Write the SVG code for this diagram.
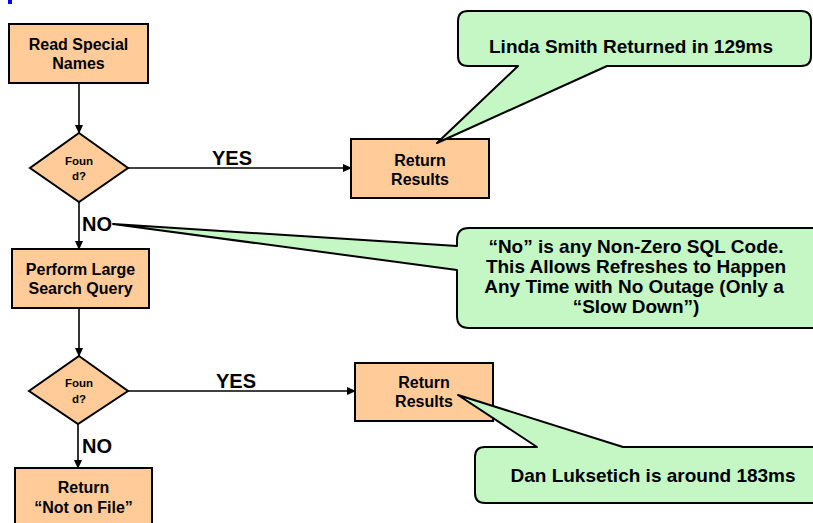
<svg xmlns="http://www.w3.org/2000/svg" width="813" height="523" viewBox="0 0 813 523">
<style>
.box{fill:#FFCC99;stroke:#000;stroke-width:2}
.call{fill:#C4F7C4;stroke:#000;stroke-width:2;stroke-linejoin:round}
.t{font-family:"Liberation Sans",Arial,sans-serif;font-weight:bold;fill:#000;text-anchor:middle}
.bt{font-size:16px}
.dt{font-size:11.5px}
.lbl{font-family:"Liberation Sans",Arial,sans-serif;font-weight:bold;font-size:20px;fill:#000}
.ct{font-size:19px}
.ln{stroke:#000;stroke-width:1.6;fill:none;marker-end:url(#ah)}
</style>
<defs>
<marker id="ah" markerWidth="9" markerHeight="8" refX="8" refY="4" orient="auto" markerUnits="userSpaceOnUse">
<path d="M0,0 L9,4 L0,8 Z" fill="#000"/>
</marker>
</defs>
<rect x="8" y="0" width="4" height="4" fill="#0000FF"/>
<g id="connectors">
<line class="ln" x1="79" y1="84" x2="79" y2="133"/>
<line class="ln" x1="128" y1="168" x2="351" y2="168"/>
<line class="ln" x1="79" y1="202" x2="79" y2="249"/>
<line class="ln" x1="79" y1="309" x2="79" y2="356"/>
<line class="ln" x1="128" y1="391" x2="355" y2="391"/>
<line class="ln" x1="78" y1="424" x2="78" y2="468"/>
<text class="lbl" x="212" y="165">YES</text>
<text class="lbl" x="216" y="388">YES</text>
<text class="lbl" x="82" y="231">NO</text>
<text class="lbl" x="82" y="453">NO</text>
</g>
<g id="read-special">
<rect class="box" x="9" y="24" width="139" height="59"/>
<text class="t bt" x="78.5" y="50">Read Special</text>
<text class="t bt" x="78.5" y="69">Names</text>
</g>
<g id="found1">
<polygon class="box" points="79,133 128,168 79,202 30,168"/>
<text class="t dt" x="79" y="165">Foun</text>
<text class="t dt" x="79" y="180">d?</text>
</g>
<g id="return1">
<rect class="box" x="351" y="139" width="138" height="59"/>
<text class="t bt" x="420" y="166">Return</text>
<text class="t bt" x="420" y="185">Results</text>
</g>
<g id="perform">
<rect class="box" x="12" y="249" width="137" height="59"/>
<text class="t bt" x="80.5" y="275">Perform Large</text>
<text class="t bt" x="80.5" y="294">Search Query</text>
</g>
<g id="found2">
<polygon class="box" points="79,356 128,391 78,424 29,391"/>
<text class="t dt" x="79" y="387">Foun</text>
<text class="t dt" x="79" y="403">d?</text>
</g>
<g id="return2">
<rect class="box" x="355" y="363" width="138" height="58"/>
<text class="t bt" x="424" y="388">Return</text>
<text class="t bt" x="424" y="407">Results</text>
</g>
<g id="return-not">
<rect class="box" x="15" y="468" width="137" height="70"/>
<text class="t bt" x="83.5" y="493">Return</text>
<text class="t bt" x="83.5" y="513">“Not on File”</text>
</g>
<g id="callout1">
<path class="call" d="M468,11 H801 Q811,11 811,21 V56 Q811,66 801,66 H607 L437,143 L518,66 H468 Q458,66 458,56 V21 Q458,11 468,11 Z"/>
<text class="t ct" x="631" y="53">Linda Smith Returned in 129ms</text>
</g>
<g id="callout2">
<path class="call" d="M469,228 H830 V328 H469 Q457,328 457,316 V270 L113,224 L457,246 V240 Q457,228 469,228 Z"/>
<text class="t ct" x="636" y="253">“No” is any Non-Zero SQL Code.</text>
<text class="t ct" x="636" y="273">This Allows Refreshes to Happen</text>
<text class="t ct" x="634" y="293">Any Time with No Outage (Only a</text>
<text class="t ct" x="636" y="313">“Slow Down”)</text>
</g>
<g id="callout3">
<path class="call" d="M485,447 H537 L458,395 L623,447 H830 V503 H485 Q475,503 475,493 V457 Q475,447 485,447 Z"/>
<text class="t ct" x="653" y="482">Dan Luksetich is around 183ms</text>
</g>
</svg>
